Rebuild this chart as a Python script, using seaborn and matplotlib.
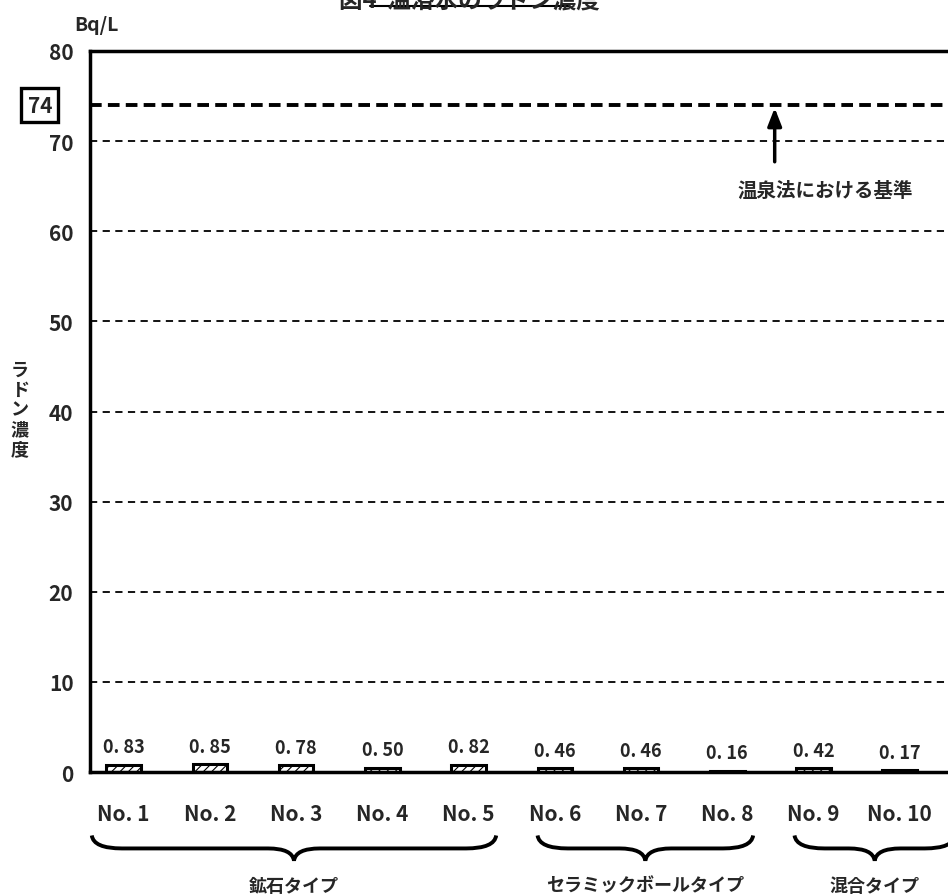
import numpy as np
import pandas as pd
import matplotlib
matplotlib.use("Agg")
import matplotlib.pyplot as plt
import matplotlib.transforms as mtransforms
from matplotlib.path import Path
from matplotlib.patches import PathPatch
import seaborn as sns

# ── data ─────────────────────────────────────────────────────────────────────
samples = ["No. 1", "No. 2", "No. 3", "No. 4", "No. 5",
           "No. 6", "No. 7", "No. 8", "No. 9", "No. 10"]
radon = [0.83, 0.85, 0.78, 0.50, 0.82, 0.46, 0.46, 0.16, 0.42, 0.17]
value_labels = ["0. 83", "0. 85", "0. 78", "0. 50", "0. 82",
                "0. 46", "0. 46", "0. 16", "0. 42", "0. 17"]
groups = ["鉱石タイプ", "セラミックボールタイプ", "混合タイプ"]
standard = 74
grid_levels = [10, 20, 30, 40, 50, 60, 70]
yticks = [0, 10, 20, 30, 40, 50, 60, 70, 80]

df = pd.DataFrame({"sample": samples, "radon": radon})

# ── style ────────────────────────────────────────────────────────────────────
sns.set_theme(style="white")
plt.rcParams["font.family"] = ["Noto Sans CJK JP", "DejaVu Sans"]
plt.rcParams["font.weight"] = "bold"
plt.rcParams["hatch.linewidth"] = 0.8

fig = plt.figure(figsize=(9.48, 8.95), dpi=100)
ax = fig.add_axes([0.095, 0.1363, 0.905, 0.8056])

sns.barplot(data=df, x="sample", y="radon", ax=ax, color="white",
            edgecolor="black", linewidth=2.2, width=0.4, hatch="////")

# value labels
for i, (v, lab) in enumerate(zip(radon, value_labels)):
    ax.annotate(lab, (i, v), xytext=(0, 6), textcoords="offset points",
                ha="center", va="bottom", fontsize=13, fontweight="bold")

# reference lines
for g in grid_levels:
    ax.axhline(g, color="black", lw=1.3, ls=(0, (4, 3)), zorder=0)
ax.axhline(standard, color="black", lw=2.8, ls=(0, (3, 1.6)), zorder=0)

ax.set_xlim(-0.39, 9.56)
ax.set_ylim(0, 80)
ax.set_yticks(yticks)
ax.set_yticklabels([str(t) for t in yticks], fontsize=15, fontweight="bold")
ax.tick_params(axis="y", length=0, pad=12)
ax.tick_params(axis="x", which="major", length=0, pad=22, labelsize=15)
ax.set_xticks(np.arange(0.5, 9, 1), minor=True)
ax.tick_params(axis="x", which="minor", direction="in", length=6, width=1.2)
for t in ax.get_xticklabels():
    t.set_fontweight("bold")
ax.set_xlabel("")
ax.set_ylabel("")

for side in ["left", "bottom", "top"]:
    ax.spines[side].set_linewidth(2.5)
    ax.spines[side].set_color("black")
ax.spines["right"].set_visible(False)

# boxed 74 label
ytrans = mtransforms.blended_transform_factory(fig.transFigure, ax.transData)
ax.text(0.042, standard, "74", ha="center", va="center", fontsize=15,
        fontweight="bold", transform=ytrans, clip_on=False,
        bbox=dict(boxstyle="square,pad=0.3", fc="white", ec="black", lw=2.4))

# arrow + note
ax.annotate("", xy=(7.55, standard), xytext=(7.55, 67.4),
            arrowprops=dict(arrowstyle="-|>,head_width=0.35,head_length=0.9",
                            color="black", lw=2.5))
ax.text(8.14, 64.6, "温泉法における基準", ha="center", va="center",
        fontsize=14, fontweight="bold")

# units and y label
fig.text(0.102, 0.972, "Bq/L", ha="center", va="center", fontsize=14,
         fontweight="bold")
fig.text(0.021, 0.542, "\n".join("ラドン濃度"), ha="center", va="center",
         fontsize=13, fontweight="bold", linespacing=1.05)

# title (cut at top edge)
fig.text(0.495, 1.0, "図4  温浴水のラドン濃度", ha="center", va="center",
         fontsize=17, fontweight="bold")
fig.add_artist(plt.Line2D([0.39, 0.60], [0.992, 0.992],
                          transform=fig.transFigure, color="black", lw=1.5))

# braces under the tick labels
trans = mtransforms.blended_transform_factory(ax.transData, ax.transAxes)


def brace(x0, x1, y_top, y_flat, y_tip):
    xm = (x0 + x1) / 2
    codes = [Path.MOVETO,
             Path.CURVE3, Path.CURVE3,
             Path.LINETO,
             Path.CURVE3, Path.CURVE3,
             Path.CURVE3, Path.CURVE3,
             Path.LINETO,
             Path.CURVE3, Path.CURVE3]
    verts = [(x0, y_top),
             (x0 + 0.02, y_flat), (x0 + 0.35, y_flat),
             (xm - 0.3, y_flat),
             (xm - 0.02, y_flat), (xm, y_tip),
             (xm + 0.02, y_flat), (xm + 0.3, y_flat),
             (x1 - 0.35, y_flat),
             (x1 - 0.02, y_flat), (x1, y_top)]
    patch = PathPatch(Path(verts, codes), fill=False, lw=2.8, color="black",
                      transform=trans, clip_on=False)
    ax.add_patch(patch)


brace_x = [(-0.37, 4.32), (4.80, 7.30), (7.78, 9.64)]
for (x0, x1), name in zip(brace_x, groups):
    brace(x0, x1, -0.088, -0.106, -0.123)
    ax.text((x0 + x1) / 2, -0.157, name, transform=trans, ha="center",
            va="center", fontsize=13, fontweight="bold", clip_on=False)

fig.savefig("out.png", dpi=100)
